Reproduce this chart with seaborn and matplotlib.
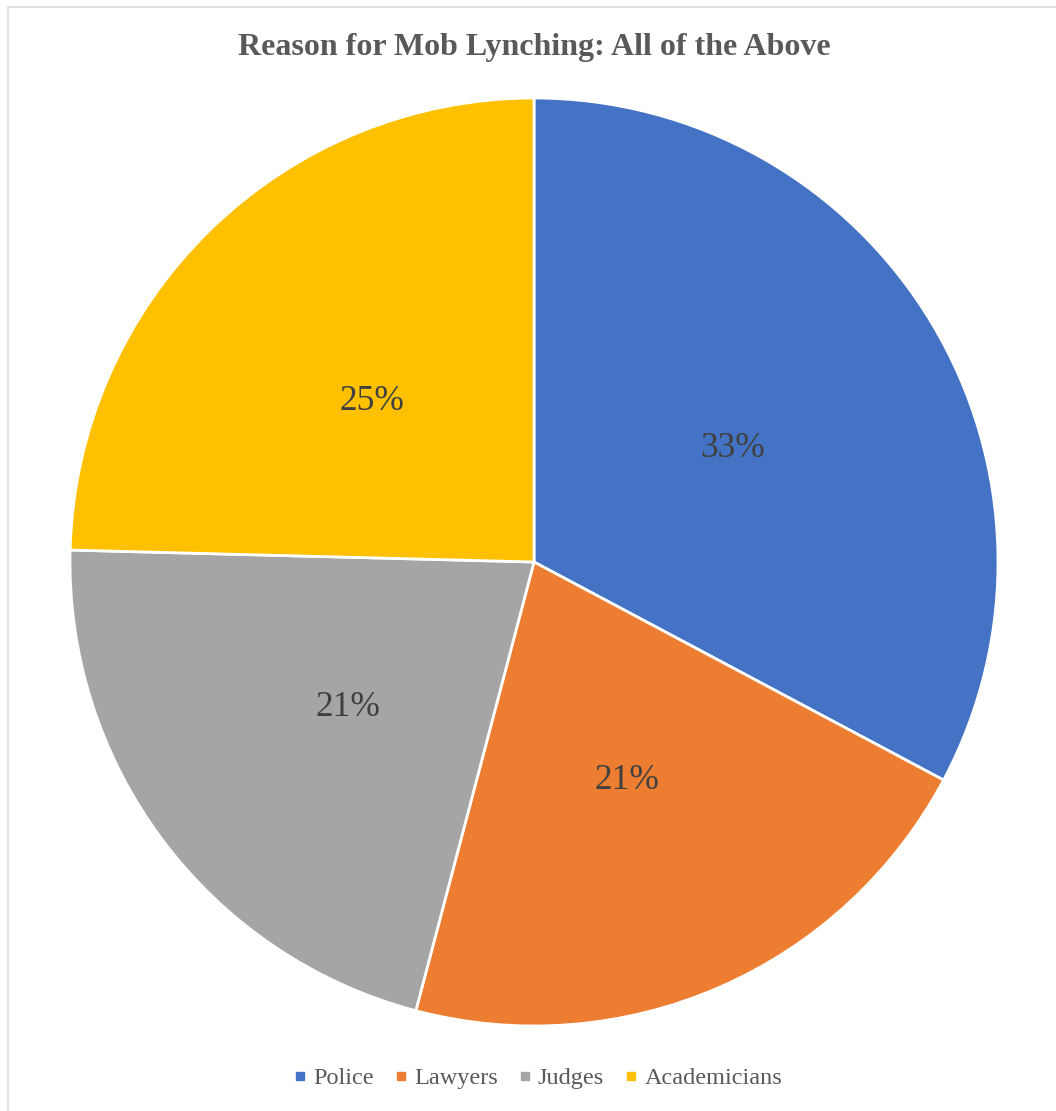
import matplotlib
matplotlib.use("Agg")
import matplotlib.pyplot as plt
import matplotlib.transforms as mtransforms
from matplotlib.lines import Line2D
from matplotlib.patches import Rectangle
import seaborn as sns

categories = ["Police", "Lawyers", "Judges", "Academicians"]
counts = [20, 13, 13, 15]
colors = ["#4472C4", "#ED7D31", "#A5A5A5", "#FFC000"]
title = "Reason for Mob Lynching: All of the Above"

sns.set_theme(style="white")
plt.rcParams["font.family"] = ["Liberation Serif", "DejaVu Serif"]

W, H = 1056, 1111
fig = plt.figure(figsize=(W / 100, H / 100), dpi=100)

# chart area frame (light grey, left/top visible)
fig.patches.append(Rectangle((8 / W, -0.01), 1.2, 1 - 7 / H + 0.01,
                             transform=fig.transFigure, fill=False,
                             edgecolor="#D9D9D9", linewidth=1.2))

cx, cy, r = 534, 562, 464
ax = fig.add_axes([(cx - r) / W, 1 - (cy + r) / H, 2 * r / W, 2 * r / H])

wedges, _, autotexts = ax.pie(
    counts, colors=sns.color_palette(colors), startangle=90, counterclock=False,
    radius=1, autopct="%.0f%%", pctdistance=0.5,
    wedgeprops=dict(edgecolor="white", linewidth=2),
    textprops=dict(color="#404040", fontsize=25.5),
)
ax.set_xlim(-1, 1)
ax.set_ylim(-1, 1)
ax.set_aspect("equal")
ax.axis("off")

# nudge percentage labels slightly down so the digits sit visually centred
for t in autotexts:
    t.set_transform(mtransforms.offset_copy(ax.transData, fig=fig, x=0, y=-6, units="dots"))

fig.text(534 / W, 1 - 47 / H, title, ha="center", va="center",
         fontsize=23, fontweight="bold", color="#595959")

handles = [Line2D([0], [0], marker="s", linestyle="none", markersize=6,
                  markerfacecolor=c, markeredgecolor=c) for c in colors]
fig.legend(handles, categories, loc="center", bbox_to_anchor=(538 / W, 1 - 1078 / H),
           ncol=4, frameon=False, fontsize=17.5, labelcolor="#595959",
           handletextpad=0.3, columnspacing=0.85, handlelength=0.5)

fig.savefig("out.png", dpi=100)
